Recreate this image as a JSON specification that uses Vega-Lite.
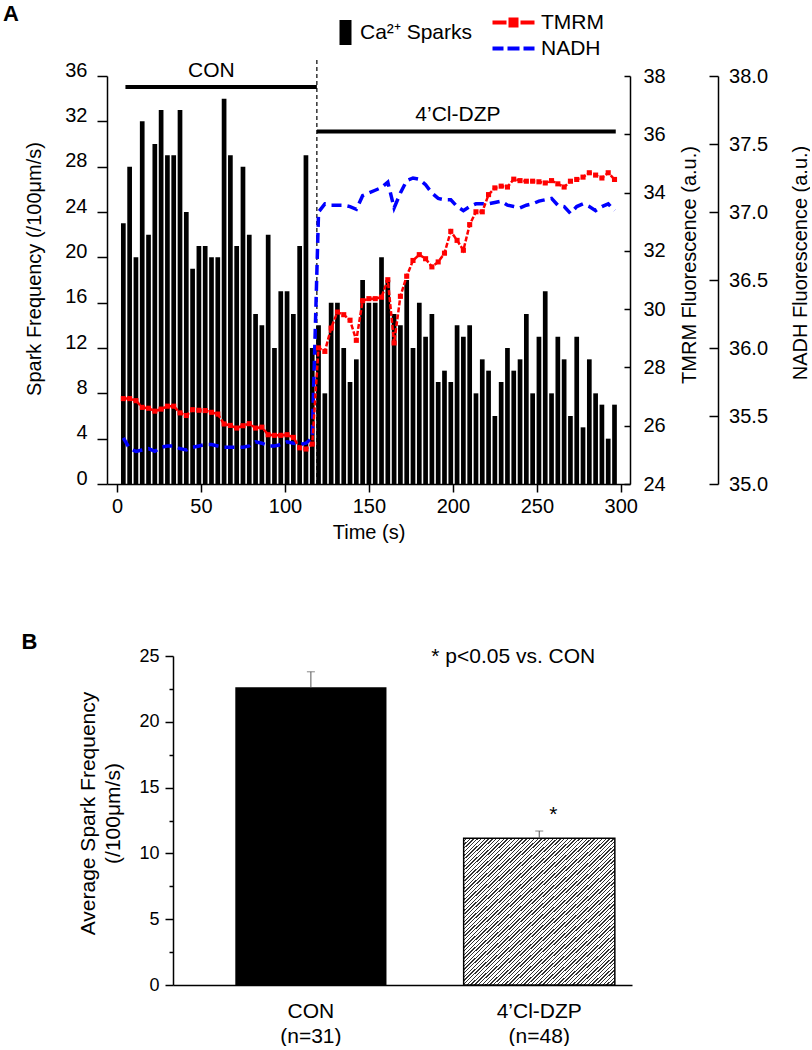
{
  "$schema": "https://vega.github.io/schema/vega-lite/v6.json",
  "padding": {"left": 3, "top": 3, "right": 0, "bottom": 0},
  "background": "white",
  "spacing": 89,
  "config": {
    "font": "Liberation Sans",
    "view": {"stroke": null},
    "axis": {"grid": false, "domainColor": "#000", "tickColor": "#000", "labelColor": "#000", "titleColor": "#000", "domainWidth": 1.5, "tickWidth": 1.5, "titleFontWeight": "normal", "labelFont": "Liberation Sans", "titleFont": "Liberation Sans"},
    "legend": {"labelFont": "Liberation Sans", "labelColor": "#000"},
    "title": {"font": "Liberation Sans", "color": "#000"},
    "text": {"font": "Liberation Sans", "color": "#000"}
  },
  "vconcat": [
    {
      "width": 523,
      "height": 408,
      "title": {"text": "A", "anchor": "start", "frame": "group", "dx": -103.9, "offset": 32, "fontSize": 22, "fontWeight": "bold", "color": "#000"},
      "data": {"values": [
        {"t": 3.75, "spark": 23, "tmrm": 26.93, "nadh": 35.34},
        {"t": 7.5, "spark": 28, "tmrm": 26.93, "nadh": 35.26},
        {"t": 11.25, "spark": 20, "tmrm": 26.86, "nadh": 35.24},
        {"t": 15, "spark": 32, "tmrm": 26.63, "nadh": 35.25},
        {"t": 18.75, "spark": 22, "tmrm": 26.6, "nadh": 35.26},
        {"t": 22.5, "spark": 30, "tmrm": 26.5, "nadh": 35.24},
        {"t": 26.25, "spark": 33, "tmrm": 26.57, "nadh": 35.27},
        {"t": 30, "spark": 29, "tmrm": 26.67, "nadh": 35.28},
        {"t": 33.75, "spark": 29, "tmrm": 26.67, "nadh": 35.28},
        {"t": 37.5, "spark": 33, "tmrm": 26.44, "nadh": 35.26},
        {"t": 41.25, "spark": 24, "tmrm": 26.35, "nadh": 35.25},
        {"t": 45, "spark": 19, "tmrm": 26.55, "nadh": 35.27},
        {"t": 48.75, "spark": 21, "tmrm": 26.53, "nadh": 35.28},
        {"t": 52.5, "spark": 21, "tmrm": 26.52, "nadh": 35.29},
        {"t": 56.25, "spark": 20, "tmrm": 26.46, "nadh": 35.29},
        {"t": 60, "spark": 20, "tmrm": 26.4, "nadh": 35.28},
        {"t": 63.75, "spark": 34, "tmrm": 26.06, "nadh": 35.27},
        {"t": 67.5, "spark": 29, "tmrm": 26.01, "nadh": 35.27},
        {"t": 71.25, "spark": 21, "tmrm": 25.92, "nadh": 35.27},
        {"t": 75, "spark": 28, "tmrm": 26.0, "nadh": 35.27},
        {"t": 78.75, "spark": 22, "tmrm": 26.07, "nadh": 35.28},
        {"t": 82.5, "spark": 15, "tmrm": 25.92, "nadh": 35.31},
        {"t": 86.25, "spark": 14, "tmrm": 25.95, "nadh": 35.3},
        {"t": 90, "spark": 22, "tmrm": 25.69, "nadh": 35.28},
        {"t": 93.75, "spark": 12, "tmrm": 25.67, "nadh": 35.28},
        {"t": 97.5, "spark": 17, "tmrm": 25.67, "nadh": 35.29},
        {"t": 101.25, "spark": 17, "tmrm": 25.69, "nadh": 35.31},
        {"t": 105, "spark": 15, "tmrm": 25.6, "nadh": 35.3},
        {"t": 108.75, "spark": 21, "tmrm": 25.24, "nadh": 35.29},
        {"t": 112.5, "spark": 29, "tmrm": 25.2, "nadh": 35.3},
        {"t": 116.25, "spark": 12, "tmrm": 25.37, "nadh": 35.34},
        {"t": 120, "spark": 14, "tmrm": 28.67, "nadh": 37.0},
        {"t": 123.75, "spark": 8, "tmrm": 28.55, "nadh": 37.06},
        {"t": 127.5, "spark": 16, "tmrm": 29.35, "nadh": 37.05},
        {"t": 131.25, "spark": 16, "tmrm": 29.9, "nadh": 37.05},
        {"t": 135, "spark": 12, "tmrm": 29.81, "nadh": 37.05},
        {"t": 138.75, "spark": 9, "tmrm": 29.62, "nadh": 37.04},
        {"t": 142.5, "spark": 11, "tmrm": 28.93, "nadh": 37.02},
        {"t": 146.25, "spark": 18, "tmrm": 30.29, "nadh": 37.12},
        {"t": 150, "spark": 16, "tmrm": 30.36, "nadh": 37.14},
        {"t": 153.75, "spark": 16, "tmrm": 30.36, "nadh": 37.16},
        {"t": 157.5, "spark": 20, "tmrm": 30.41, "nadh": 37.18},
        {"t": 161.25, "spark": 18, "tmrm": 31.01, "nadh": 37.22},
        {"t": 165, "spark": 15, "tmrm": 28.84, "nadh": 37.03},
        {"t": 168.75, "spark": 14, "tmrm": 30.44, "nadh": 37.14},
        {"t": 172.5, "spark": 18, "tmrm": 31.13, "nadh": 37.23},
        {"t": 176.25, "spark": 12, "tmrm": 31.67, "nadh": 37.25},
        {"t": 180, "spark": 16, "tmrm": 31.87, "nadh": 37.24},
        {"t": 183.75, "spark": 13, "tmrm": 31.73, "nadh": 37.2},
        {"t": 187.5, "spark": 15, "tmrm": 31.45, "nadh": 37.14},
        {"t": 191.25, "spark": 9, "tmrm": 31.62, "nadh": 37.1},
        {"t": 195, "spark": 10, "tmrm": 31.92, "nadh": 37.09},
        {"t": 198.75, "spark": 9, "tmrm": 32.67, "nadh": 37.09},
        {"t": 202.5, "spark": 14, "tmrm": 32.36, "nadh": 37.04},
        {"t": 206.25, "spark": 13, "tmrm": 32.02, "nadh": 37.01},
        {"t": 210, "spark": 14, "tmrm": 32.9, "nadh": 37.04},
        {"t": 213.75, "spark": 8, "tmrm": 33.34, "nadh": 37.06},
        {"t": 217.5, "spark": 11, "tmrm": 33.34, "nadh": 37.06},
        {"t": 221.25, "spark": 10, "tmrm": 33.93, "nadh": 37.06},
        {"t": 225, "spark": 6, "tmrm": 34.16, "nadh": 37.07},
        {"t": 228.75, "spark": 9, "tmrm": 34.22, "nadh": 37.08},
        {"t": 232.5, "spark": 12, "tmrm": 34.19, "nadh": 37.05},
        {"t": 236.25, "spark": 10, "tmrm": 34.46, "nadh": 37.04},
        {"t": 240, "spark": 11, "tmrm": 34.41, "nadh": 37.03},
        {"t": 243.75, "spark": 15, "tmrm": 34.39, "nadh": 37.05},
        {"t": 247.5, "spark": 8, "tmrm": 34.39, "nadh": 37.06},
        {"t": 251.25, "spark": 13, "tmrm": 34.37, "nadh": 37.08},
        {"t": 255, "spark": 17, "tmrm": 34.33, "nadh": 37.09},
        {"t": 258.75, "spark": 8, "tmrm": 34.41, "nadh": 37.1},
        {"t": 262.5, "spark": 13, "tmrm": 34.3, "nadh": 37.05},
        {"t": 266.25, "spark": 11, "tmrm": 34.19, "nadh": 37.04},
        {"t": 270, "spark": 6, "tmrm": 34.39, "nadh": 36.99},
        {"t": 273.75, "spark": 13, "tmrm": 34.45, "nadh": 37.04},
        {"t": 277.5, "spark": 5, "tmrm": 34.53, "nadh": 37.06},
        {"t": 281.25, "spark": 11, "tmrm": 34.68, "nadh": 37.04},
        {"t": 285, "spark": 8, "tmrm": 34.6, "nadh": 37.01},
        {"t": 288.75, "spark": 7, "tmrm": 34.5, "nadh": 37.04},
        {"t": 292.5, "spark": 4, "tmrm": 34.68, "nadh": 37.06},
        {"t": 296.25, "spark": 7, "tmrm": 34.45, "nadh": 37.01}
      ]},
      "layer": [
        {
          "layer": [
            {
              "mark": {"type": "bar", "width": 4.7},
              "encoding": {
                "x": {"field": "t", "type": "quantitative", "scale": {"domain": [-3, 302.5], "nice": false, "zero": false},
                  "axis": {"orient": "bottom", "values": [0, 50, 100, 150, 200, 250, 300], "title": "Time (s)", "tickSize": 8, "labelPadding": 4, "titlePadding": 6, "labelFontSize": 20, "titleFontSize": 20}},
                "y": {"field": "spark", "type": "quantitative", "scale": {"domain": [0, 36], "nice": false},
                  "axis": {"orient": "left", "values": [0, 4, 8, 12, 16, 20, 24, 28, 32, 36], "title": "Spark Frequency (/100μm/s)", "tickSize": 10, "labelPadding": 10, "labelOffset": -6, "labelFontSize": 20, "titleFontSize": 20, "titleX": -73, "titleY": 192.5, "titleBaseline": "middle", "titleAlign": "center", "titleAngle": 270}},
                "fill": {"datum": "Ca²⁺ Sparks", "type": "nominal", "scale": {"range": ["#000000"]},
                  "legend": {"orient": "none", "legendX": 228, "legendY": -54, "title": null, "labelFontSize": 21, "labelColor": "#000", "symbolSize": 4, "symbolType": "M-6,-12.5H6V12.5H-6Z", "symbolStrokeWidth": 0, "labelOffset": 4, "padding": 0}}
              }
            },
            {
              "data": {"values": [{"start": 5, "end": 119, "level": 35.03}, {"start": 119, "end": 297, "level": 31.1}]},
              "mark": {"type": "rule", "strokeWidth": 4, "color": "#000"},
              "encoding": {
                "x": {"field": "start", "type": "quantitative", "scale": {"domain": [-3, 302.5], "nice": false, "zero": false}, "axis": null},
                "x2": {"field": "end"},
                "y": {"field": "level", "type": "quantitative", "scale": {"domain": [0, 36], "nice": false}, "axis": null}
              }
            },
            {
              "data": {"values": [{"at": 119, "bottom": 0, "top": 37.5}]},
              "mark": {"type": "rule", "strokeWidth": 1.2, "strokeDash": [4, 3], "color": "#000"},
              "encoding": {
                "x": {"field": "at", "type": "quantitative", "scale": {"domain": [-3, 302.5], "nice": false, "zero": false}, "axis": null},
                "y": {"field": "bottom", "type": "quantitative", "scale": {"domain": [0, 36], "nice": false}, "axis": null},
                "y2": {"field": "top"}
              }
            },
            {
              "data": {"values": [{"label": "CON", "tx": 56.2, "ty": 36.44}, {"label": "4’Cl-DZP", "tx": 203, "ty": 32.56}]},
              "mark": {"type": "text", "fontSize": 21, "baseline": "middle", "align": "center", "color": "#000"},
              "encoding": {
                "x": {"field": "tx", "type": "quantitative", "scale": {"domain": [-3, 302.5], "nice": false, "zero": false}, "axis": null},
                "y": {"field": "ty", "type": "quantitative", "scale": {"domain": [0, 36], "nice": false}, "axis": null},
                "text": {"field": "label"}
              }
            }
          ],
          "resolve": {"axis": {"x": "independent", "y": "independent"}}
        },
        {
          "mark": {"type": "line", "strokeDash": [10, 6], "strokeWidth": 3.5},
          "encoding": {
            "x": {"field": "t", "type": "quantitative", "scale": {"domain": [-3, 302.5], "nice": false, "zero": false}, "axis": null},
            "y": {"field": "nadh", "type": "quantitative", "scale": {"domain": [35, 38], "nice": false, "zero": false},
              "axis": {"orient": "right", "offset": 88, "values": [35, 35.5, 36, 36.5, 37, 37.5, 38], "format": ".1f", "title": "NADH Fluorescence (a.u.)", "titleAngle": 270, "titleX": 82, "titleY": 186.5, "titleBaseline": "middle", "titleAlign": "center", "tickSize": -9, "labelPadding": 19.6, "labelFontSize": 20, "titleFontSize": 20}},
            "stroke": {"datum": "NADH", "type": "nominal", "scale": {"range": ["#0000ff"]},
              "legend": {"orient": "none", "legendX": 396, "legendY": -38, "title": null, "labelFontSize": 21, "labelColor": "#000", "labelOffset": 17, "symbolSize": 4, "padding": 0, "symbolType": "M-21,-2H-10V2H-21ZM-6,-2H6V2H-6ZM10,-2H21V2H10Z", "symbolFillColor": "#0000ff", "symbolStrokeWidth": 0}}
          }
        },
        {
          "layer": [
            {
              "mark": {"type": "line", "strokeDash": [5, 2], "strokeWidth": 2.5},
              "encoding": {
                "x": {"field": "t", "type": "quantitative", "scale": {"domain": [-3, 302.5], "nice": false, "zero": false}, "axis": null},
                "y": {"field": "tmrm", "type": "quantitative", "scale": {"domain": [24, 38], "nice": false, "zero": false},
                  "axis": {"orient": "right", "values": [24, 26, 28, 30, 32, 34, 36, 38], "title": "TMRM Fluorescence (a.u.)", "titleAngle": 270, "titleX": 59, "titleY": 188.5, "titleBaseline": "middle", "titleAlign": "center", "tickSize": -6, "labelPadding": 19, "labelFontSize": 20, "titleFontSize": 20}},
                "color": {"datum": "TMRM", "type": "nominal", "scale": {"range": ["#ff0000"]},
                  "legend": {"orient": "none", "legendX": 396, "legendY": -64, "title": null, "labelFontSize": 21, "labelColor": "#000", "labelOffset": 17, "symbolSize": 4, "padding": 0, "symbolType": "M-21,-2H-7V2H-21ZM-5,-5H5V5H-5ZM7,-2H21V2H7Z", "symbolFillColor": "#ff0000", "symbolStrokeWidth": 0}}
              }
            },
            {
              "mark": {"type": "point", "shape": "square", "filled": true, "size": 26, "color": "#ff0000", "opacity": 1},
              "encoding": {
                "x": {"field": "t", "type": "quantitative", "scale": {"domain": [-3, 302.5], "nice": false, "zero": false}, "axis": null},
                "y": {"field": "tmrm", "type": "quantitative", "scale": {"domain": [24, 38], "nice": false, "zero": false}, "axis": null}
              }
            }
          ],
          "resolve": {"axis": {"x": "independent", "y": "independent"}}
        }
      ],
      "resolve": {"scale": {"y": "independent"}, "axis": {"x": "independent", "y": "independent"}}
    },
    {
      "width": 525,
      "height": 329,
      "title": {"text": "B", "anchor": "start", "frame": "group", "dx": -85.5, "offset": -8, "fontSize": 22, "fontWeight": "bold", "color": "#000"},
      "data": {"values": [
        {"group": "CON", "mean": 22.62, "upper": 23.8},
        {"group": "4’Cl-DZP", "mean": 11.15, "upper": 11.7}
      ]},
      "layer": [
        {
          "transform": [{"filter": "datum.group === 'CON'"}],
          "mark": {"type": "bar", "color": "#000"},
          "encoding": {
            "x": {"field": "group", "type": "nominal", "sort": ["CON", "4’Cl-DZP"], "scale": {"range": [66, 525], "paddingInner": 0.338, "paddingOuter": 0.174, "align": 0.784},
              "axis": {"orient": "bottom", "title": null, "ticks": false, "labelAngle": 0, "labelFontSize": 21, "labelPadding": 15, "labelLineHeight": 25, "labelExpr": "datum.value === 'CON' ? ['CON', '(n=31)'] : ['4’Cl-DZP', '(n=48)']"}},
            "y": {"field": "mean", "type": "quantitative", "scale": {"domain": [0, 25], "nice": false},
              "axis": {"orient": "left", "offset": -66, "values": [0, 5, 10, 15, 20, 25], "format": "d", "tickSize": 8, "labelPadding": 6, "labelFontSize": 18, "title": ["Average Spark Frequency", "(/100μm/s)"], "titleFontSize": 21, "titleLineHeight": 25, "titleX": -85, "titleY": 157, "titleBaseline": "middle", "titleAlign": "center", "titleAngle": 270}}
          }
        },
        {
          "transform": [{"filter": "datum.group !== 'CON'"}],
          "mark": {"type": "bar", "stroke": "#000", "strokeWidth": 1.5, "fill": {"gradient": "linear", "x1": 0, "y1": 0, "x2": 1, "y2": 1, "stops": [
            {"offset": 0, "color": "#fff"}, {"offset": 0.008, "color": "#fff"}, {"offset": 0.008, "color": "#333"}, {"offset": 0.0125, "color": "#333"},
            {"offset": 0.0125, "color": "#fff"}, {"offset": 0.0205, "color": "#fff"}, {"offset": 0.0205, "color": "#333"}, {"offset": 0.025, "color": "#333"},
            {"offset": 0.025, "color": "#fff"}, {"offset": 0.033, "color": "#fff"}, {"offset": 0.033, "color": "#333"}, {"offset": 0.0375, "color": "#333"},
            {"offset": 0.0375, "color": "#fff"}, {"offset": 0.0455, "color": "#fff"}, {"offset": 0.0455, "color": "#333"}, {"offset": 0.05, "color": "#333"},
            {"offset": 0.05, "color": "#fff"}, {"offset": 0.058, "color": "#fff"}, {"offset": 0.058, "color": "#333"}, {"offset": 0.0625, "color": "#333"},
            {"offset": 0.0625, "color": "#fff"}, {"offset": 0.0705, "color": "#fff"}, {"offset": 0.0705, "color": "#333"}, {"offset": 0.075, "color": "#333"},
            {"offset": 0.075, "color": "#fff"}, {"offset": 0.083, "color": "#fff"}, {"offset": 0.083, "color": "#333"}, {"offset": 0.0875, "color": "#333"},
            {"offset": 0.0875, "color": "#fff"}, {"offset": 0.0955, "color": "#fff"}, {"offset": 0.0955, "color": "#333"}, {"offset": 0.1, "color": "#333"},
            {"offset": 0.1, "color": "#fff"}, {"offset": 0.108, "color": "#fff"}, {"offset": 0.108, "color": "#333"}, {"offset": 0.1125, "color": "#333"},
            {"offset": 0.1125, "color": "#fff"}, {"offset": 0.1205, "color": "#fff"}, {"offset": 0.1205, "color": "#333"}, {"offset": 0.125, "color": "#333"},
            {"offset": 0.125, "color": "#fff"}, {"offset": 0.133, "color": "#fff"}, {"offset": 0.133, "color": "#333"}, {"offset": 0.1375, "color": "#333"},
            {"offset": 0.1375, "color": "#fff"}, {"offset": 0.1455, "color": "#fff"}, {"offset": 0.1455, "color": "#333"}, {"offset": 0.15, "color": "#333"},
            {"offset": 0.15, "color": "#fff"}, {"offset": 0.158, "color": "#fff"}, {"offset": 0.158, "color": "#333"}, {"offset": 0.1625, "color": "#333"},
            {"offset": 0.1625, "color": "#fff"}, {"offset": 0.1705, "color": "#fff"}, {"offset": 0.1705, "color": "#333"}, {"offset": 0.175, "color": "#333"},
            {"offset": 0.175, "color": "#fff"}, {"offset": 0.183, "color": "#fff"}, {"offset": 0.183, "color": "#333"}, {"offset": 0.1875, "color": "#333"},
            {"offset": 0.1875, "color": "#fff"}, {"offset": 0.1955, "color": "#fff"}, {"offset": 0.1955, "color": "#333"}, {"offset": 0.2, "color": "#333"},
            {"offset": 0.2, "color": "#fff"}, {"offset": 0.208, "color": "#fff"}, {"offset": 0.208, "color": "#333"}, {"offset": 0.2125, "color": "#333"},
            {"offset": 0.2125, "color": "#fff"}, {"offset": 0.2205, "color": "#fff"}, {"offset": 0.2205, "color": "#333"}, {"offset": 0.225, "color": "#333"},
            {"offset": 0.225, "color": "#fff"}, {"offset": 0.233, "color": "#fff"}, {"offset": 0.233, "color": "#333"}, {"offset": 0.2375, "color": "#333"},
            {"offset": 0.2375, "color": "#fff"}, {"offset": 0.2455, "color": "#fff"}, {"offset": 0.2455, "color": "#333"}, {"offset": 0.25, "color": "#333"},
            {"offset": 0.25, "color": "#fff"}, {"offset": 0.258, "color": "#fff"}, {"offset": 0.258, "color": "#333"}, {"offset": 0.2625, "color": "#333"},
            {"offset": 0.2625, "color": "#fff"}, {"offset": 0.2705, "color": "#fff"}, {"offset": 0.2705, "color": "#333"}, {"offset": 0.275, "color": "#333"},
            {"offset": 0.275, "color": "#fff"}, {"offset": 0.283, "color": "#fff"}, {"offset": 0.283, "color": "#333"}, {"offset": 0.2875, "color": "#333"},
            {"offset": 0.2875, "color": "#fff"}, {"offset": 0.2955, "color": "#fff"}, {"offset": 0.2955, "color": "#333"}, {"offset": 0.3, "color": "#333"},
            {"offset": 0.3, "color": "#fff"}, {"offset": 0.308, "color": "#fff"}, {"offset": 0.308, "color": "#333"}, {"offset": 0.3125, "color": "#333"},
            {"offset": 0.3125, "color": "#fff"}, {"offset": 0.3205, "color": "#fff"}, {"offset": 0.3205, "color": "#333"}, {"offset": 0.325, "color": "#333"},
            {"offset": 0.325, "color": "#fff"}, {"offset": 0.333, "color": "#fff"}, {"offset": 0.333, "color": "#333"}, {"offset": 0.3375, "color": "#333"},
            {"offset": 0.3375, "color": "#fff"}, {"offset": 0.3455, "color": "#fff"}, {"offset": 0.3455, "color": "#333"}, {"offset": 0.35, "color": "#333"},
            {"offset": 0.35, "color": "#fff"}, {"offset": 0.358, "color": "#fff"}, {"offset": 0.358, "color": "#333"}, {"offset": 0.3625, "color": "#333"},
            {"offset": 0.3625, "color": "#fff"}, {"offset": 0.3705, "color": "#fff"}, {"offset": 0.3705, "color": "#333"}, {"offset": 0.375, "color": "#333"},
            {"offset": 0.375, "color": "#fff"}, {"offset": 0.383, "color": "#fff"}, {"offset": 0.383, "color": "#333"}, {"offset": 0.3875, "color": "#333"},
            {"offset": 0.3875, "color": "#fff"}, {"offset": 0.3955, "color": "#fff"}, {"offset": 0.3955, "color": "#333"}, {"offset": 0.4, "color": "#333"},
            {"offset": 0.4, "color": "#fff"}, {"offset": 0.408, "color": "#fff"}, {"offset": 0.408, "color": "#333"}, {"offset": 0.4125, "color": "#333"},
            {"offset": 0.4125, "color": "#fff"}, {"offset": 0.4205, "color": "#fff"}, {"offset": 0.4205, "color": "#333"}, {"offset": 0.425, "color": "#333"},
            {"offset": 0.425, "color": "#fff"}, {"offset": 0.433, "color": "#fff"}, {"offset": 0.433, "color": "#333"}, {"offset": 0.4375, "color": "#333"},
            {"offset": 0.4375, "color": "#fff"}, {"offset": 0.4455, "color": "#fff"}, {"offset": 0.4455, "color": "#333"}, {"offset": 0.45, "color": "#333"},
            {"offset": 0.45, "color": "#fff"}, {"offset": 0.458, "color": "#fff"}, {"offset": 0.458, "color": "#333"}, {"offset": 0.4625, "color": "#333"},
            {"offset": 0.4625, "color": "#fff"}, {"offset": 0.4705, "color": "#fff"}, {"offset": 0.4705, "color": "#333"}, {"offset": 0.475, "color": "#333"},
            {"offset": 0.475, "color": "#fff"}, {"offset": 0.483, "color": "#fff"}, {"offset": 0.483, "color": "#333"}, {"offset": 0.4875, "color": "#333"},
            {"offset": 0.4875, "color": "#fff"}, {"offset": 0.4955, "color": "#fff"}, {"offset": 0.4955, "color": "#333"}, {"offset": 0.5, "color": "#333"},
            {"offset": 0.5, "color": "#fff"}, {"offset": 0.508, "color": "#fff"}, {"offset": 0.508, "color": "#333"}, {"offset": 0.5125, "color": "#333"},
            {"offset": 0.5125, "color": "#fff"}, {"offset": 0.5205, "color": "#fff"}, {"offset": 0.5205, "color": "#333"}, {"offset": 0.525, "color": "#333"},
            {"offset": 0.525, "color": "#fff"}, {"offset": 0.533, "color": "#fff"}, {"offset": 0.533, "color": "#333"}, {"offset": 0.5375, "color": "#333"},
            {"offset": 0.5375, "color": "#fff"}, {"offset": 0.5455, "color": "#fff"}, {"offset": 0.5455, "color": "#333"}, {"offset": 0.55, "color": "#333"},
            {"offset": 0.55, "color": "#fff"}, {"offset": 0.558, "color": "#fff"}, {"offset": 0.558, "color": "#333"}, {"offset": 0.5625, "color": "#333"},
            {"offset": 0.5625, "color": "#fff"}, {"offset": 0.5705, "color": "#fff"}, {"offset": 0.5705, "color": "#333"}, {"offset": 0.575, "color": "#333"},
            {"offset": 0.575, "color": "#fff"}, {"offset": 0.583, "color": "#fff"}, {"offset": 0.583, "color": "#333"}, {"offset": 0.5875, "color": "#333"},
            {"offset": 0.5875, "color": "#fff"}, {"offset": 0.5955, "color": "#fff"}, {"offset": 0.5955, "color": "#333"}, {"offset": 0.6, "color": "#333"},
            {"offset": 0.6, "color": "#fff"}, {"offset": 0.608, "color": "#fff"}, {"offset": 0.608, "color": "#333"}, {"offset": 0.6125, "color": "#333"},
            {"offset": 0.6125, "color": "#fff"}, {"offset": 0.6205, "color": "#fff"}, {"offset": 0.6205, "color": "#333"}, {"offset": 0.625, "color": "#333"},
            {"offset": 0.625, "color": "#fff"}, {"offset": 0.633, "color": "#fff"}, {"offset": 0.633, "color": "#333"}, {"offset": 0.6375, "color": "#333"},
            {"offset": 0.6375, "color": "#fff"}, {"offset": 0.6455, "color": "#fff"}, {"offset": 0.6455, "color": "#333"}, {"offset": 0.65, "color": "#333"},
            {"offset": 0.65, "color": "#fff"}, {"offset": 0.658, "color": "#fff"}, {"offset": 0.658, "color": "#333"}, {"offset": 0.6625, "color": "#333"},
            {"offset": 0.6625, "color": "#fff"}, {"offset": 0.6705, "color": "#fff"}, {"offset": 0.6705, "color": "#333"}, {"offset": 0.675, "color": "#333"},
            {"offset": 0.675, "color": "#fff"}, {"offset": 0.683, "color": "#fff"}, {"offset": 0.683, "color": "#333"}, {"offset": 0.6875, "color": "#333"},
            {"offset": 0.6875, "color": "#fff"}, {"offset": 0.6955, "color": "#fff"}, {"offset": 0.6955, "color": "#333"}, {"offset": 0.7, "color": "#333"},
            {"offset": 0.7, "color": "#fff"}, {"offset": 0.708, "color": "#fff"}, {"offset": 0.708, "color": "#333"}, {"offset": 0.7125, "color": "#333"},
            {"offset": 0.7125, "color": "#fff"}, {"offset": 0.7205, "color": "#fff"}, {"offset": 0.7205, "color": "#333"}, {"offset": 0.725, "color": "#333"},
            {"offset": 0.725, "color": "#fff"}, {"offset": 0.733, "color": "#fff"}, {"offset": 0.733, "color": "#333"}, {"offset": 0.7375, "color": "#333"},
            {"offset": 0.7375, "color": "#fff"}, {"offset": 0.7455, "color": "#fff"}, {"offset": 0.7455, "color": "#333"}, {"offset": 0.75, "color": "#333"},
            {"offset": 0.75, "color": "#fff"}, {"offset": 0.758, "color": "#fff"}, {"offset": 0.758, "color": "#333"}, {"offset": 0.7625, "color": "#333"},
            {"offset": 0.7625, "color": "#fff"}, {"offset": 0.7705, "color": "#fff"}, {"offset": 0.7705, "color": "#333"}, {"offset": 0.775, "color": "#333"},
            {"offset": 0.775, "color": "#fff"}, {"offset": 0.783, "color": "#fff"}, {"offset": 0.783, "color": "#333"}, {"offset": 0.7875, "color": "#333"},
            {"offset": 0.7875, "color": "#fff"}, {"offset": 0.7955, "color": "#fff"}, {"offset": 0.7955, "color": "#333"}, {"offset": 0.8, "color": "#333"},
            {"offset": 0.8, "color": "#fff"}, {"offset": 0.808, "color": "#fff"}, {"offset": 0.808, "color": "#333"}, {"offset": 0.8125, "color": "#333"},
            {"offset": 0.8125, "color": "#fff"}, {"offset": 0.8205, "color": "#fff"}, {"offset": 0.8205, "color": "#333"}, {"offset": 0.825, "color": "#333"},
            {"offset": 0.825, "color": "#fff"}, {"offset": 0.833, "color": "#fff"}, {"offset": 0.833, "color": "#333"}, {"offset": 0.8375, "color": "#333"},
            {"offset": 0.8375, "color": "#fff"}, {"offset": 0.8455, "color": "#fff"}, {"offset": 0.8455, "color": "#333"}, {"offset": 0.85, "color": "#333"},
            {"offset": 0.85, "color": "#fff"}, {"offset": 0.858, "color": "#fff"}, {"offset": 0.858, "color": "#333"}, {"offset": 0.8625, "color": "#333"},
            {"offset": 0.8625, "color": "#fff"}, {"offset": 0.8705, "color": "#fff"}, {"offset": 0.8705, "color": "#333"}, {"offset": 0.875, "color": "#333"},
            {"offset": 0.875, "color": "#fff"}, {"offset": 0.883, "color": "#fff"}, {"offset": 0.883, "color": "#333"}, {"offset": 0.8875, "color": "#333"},
            {"offset": 0.8875, "color": "#fff"}, {"offset": 0.8955, "color": "#fff"}, {"offset": 0.8955, "color": "#333"}, {"offset": 0.9, "color": "#333"},
            {"offset": 0.9, "color": "#fff"}, {"offset": 0.908, "color": "#fff"}, {"offset": 0.908, "color": "#333"}, {"offset": 0.9125, "color": "#333"},
            {"offset": 0.9125, "color": "#fff"}, {"offset": 0.9205, "color": "#fff"}, {"offset": 0.9205, "color": "#333"}, {"offset": 0.925, "color": "#333"},
            {"offset": 0.925, "color": "#fff"}, {"offset": 0.933, "color": "#fff"}, {"offset": 0.933, "color": "#333"}, {"offset": 0.9375, "color": "#333"},
            {"offset": 0.9375, "color": "#fff"}, {"offset": 0.9455, "color": "#fff"}, {"offset": 0.9455, "color": "#333"}, {"offset": 0.95, "color": "#333"},
            {"offset": 0.95, "color": "#fff"}, {"offset": 0.958, "color": "#fff"}, {"offset": 0.958, "color": "#333"}, {"offset": 0.9625, "color": "#333"},
            {"offset": 0.9625, "color": "#fff"}, {"offset": 0.9705, "color": "#fff"}, {"offset": 0.9705, "color": "#333"}, {"offset": 0.975, "color": "#333"},
            {"offset": 0.975, "color": "#fff"}, {"offset": 0.983, "color": "#fff"}, {"offset": 0.983, "color": "#333"}, {"offset": 0.9875, "color": "#333"},
            {"offset": 0.9875, "color": "#fff"}, {"offset": 0.9955, "color": "#fff"}, {"offset": 0.9955, "color": "#333"}, {"offset": 1, "color": "#333"}
          ]}},
          "encoding": {
            "x": {"field": "group", "type": "nominal", "sort": ["CON", "4’Cl-DZP"], "scale": {"range": [66, 525], "paddingInner": 0.338, "paddingOuter": 0.174, "align": 0.784}, "axis": null},
            "y": {"field": "mean", "type": "quantitative", "scale": {"domain": [0, 25], "nice": false}, "axis": null}
          }
        },
        {
          "mark": {"type": "rule", "color": "#555", "strokeWidth": 1},
          "encoding": {
            "x": {"field": "group", "type": "nominal", "sort": ["CON", "4’Cl-DZP"], "scale": {"range": [66, 525], "paddingInner": 0.338, "paddingOuter": 0.174, "align": 0.784}, "axis": null},
            "y": {"field": "mean", "type": "quantitative", "scale": {"domain": [0, 25], "nice": false},
              "axis": {"orient": "left", "offset": -66, "values": [2.5, 7.5, 12.5, 17.5, 22.5], "labels": false, "domain": false, "tickSize": 4, "title": null}},
            "y2": {"field": "upper"}
          }
        },
        {
          "mark": {"type": "tick", "color": "#555", "thickness": 1, "size": 8, "orient": "horizontal"},
          "encoding": {
            "x": {"field": "group", "type": "nominal", "sort": ["CON", "4’Cl-DZP"], "scale": {"range": [66, 525], "paddingInner": 0.338, "paddingOuter": 0.174, "align": 0.784}, "axis": null},
            "y": {"field": "upper", "type": "quantitative", "scale": {"domain": [0, 25], "nice": false}, "axis": null}
          }
        },
        {
          "transform": [{"filter": "datum.group !== 'CON'"}],
          "mark": {"type": "text", "text": "*", "fontSize": 21, "dx": 14, "baseline": "middle", "align": "center", "color": "#000"},
          "encoding": {
            "x": {"field": "group", "type": "nominal", "sort": ["CON", "4’Cl-DZP"], "scale": {"range": [66, 525], "paddingInner": 0.338, "paddingOuter": 0.174, "align": 0.784}, "axis": null},
            "y": {"datum": 12.9, "type": "quantitative", "scale": {"domain": [0, 25], "nice": false}, "axis": null}
          }
        },
        {
          "transform": [{"filter": "datum.group !== 'CON'"}],
          "mark": {"type": "text", "text": "* p<0.05 vs. CON", "fontSize": 21, "dx": -26, "baseline": "middle", "align": "center", "color": "#000"},
          "encoding": {
            "x": {"field": "group", "type": "nominal", "sort": ["CON", "4’Cl-DZP"], "scale": {"range": [66, 525], "paddingInner": 0.338, "paddingOuter": 0.174, "align": 0.784}, "axis": null},
            "y": {"datum": 24.9, "type": "quantitative", "scale": {"domain": [0, 25], "nice": false}, "axis": null}
          }
        }
      ],
      "resolve": {"axis": {"x": "independent", "y": "independent"}}
    }
  ]
}
